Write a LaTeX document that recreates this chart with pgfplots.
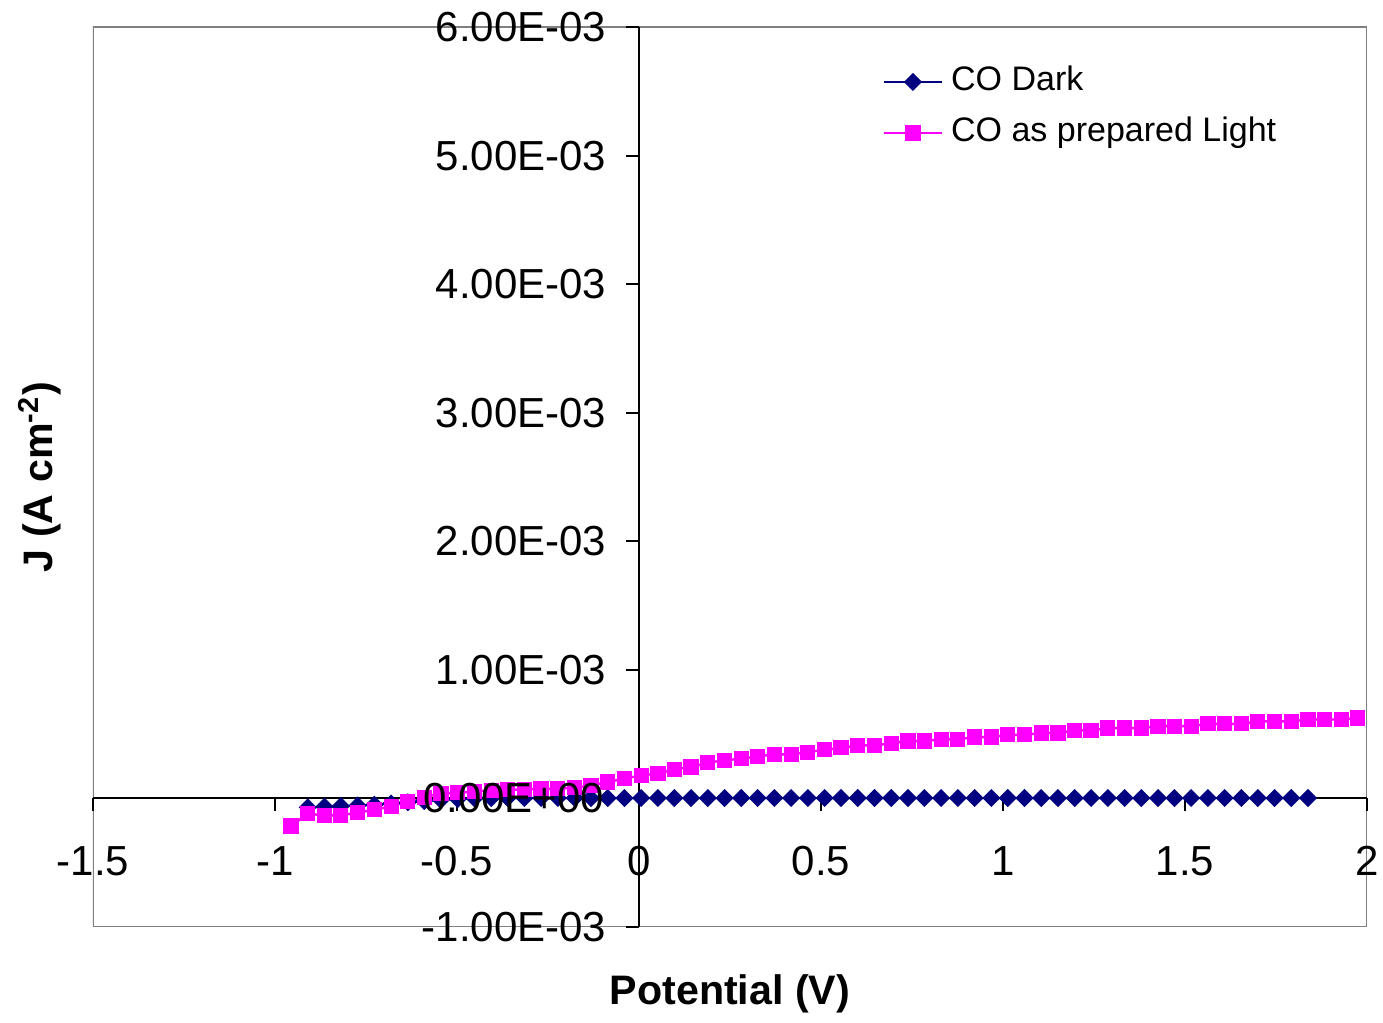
\documentclass[border=0pt]{standalone}
\usepackage{pgfplots}
\pgfplotsset{compat=1.18}
\usepackage{pgfplotstable}
\usepackage{fontspec}
\setmainfont{Liberation Sans}
\definecolor{darkser}{RGB}{0,0,128}
\definecolor{lightser}{RGB}{255,0,255}
\definecolor{framegray}{RGB}{128,128,128}

\pgfplotstableread{
x y
-0.910 -0.070e-3
-0.864 -0.065e-3
-0.819 -0.060e-3
-0.773 -0.055e-3
-0.727 -0.050e-3
-0.681 -0.040e-3
-0.635 -0.030e-3
-0.590 -0.020e-3
-0.544 -0.012e-3
-0.498 -0.005e-3
-0.452 0.000e-3
-0.406 0.002e-3
-0.361 0.003e-3
-0.315 0.003e-3
-0.269 0.003e-3
-0.223 0.003e-3
-0.177 0.003e-3
-0.132 0.003e-3
-0.086 0.003e-3
-0.040 0.003e-3
0.006 0.003e-3
0.052 0.003e-3
0.097 0.003e-3
0.143 0.003e-3
0.189 0.003e-3
0.235 0.003e-3
0.281 0.003e-3
0.326 0.003e-3
0.372 0.003e-3
0.418 0.003e-3
0.464 0.003e-3
0.510 0.003e-3
0.555 0.003e-3
0.601 0.003e-3
0.647 0.003e-3
0.693 0.003e-3
0.739 0.003e-3
0.784 0.003e-3
0.830 0.003e-3
0.876 0.003e-3
0.922 0.003e-3
0.968 0.003e-3
1.013 0.003e-3
1.059 0.003e-3
1.105 0.003e-3
1.151 0.003e-3
1.197 0.003e-3
1.242 0.003e-3
1.288 0.003e-3
1.334 0.003e-3
1.380 0.003e-3
1.426 0.003e-3
1.471 0.003e-3
1.517 0.003e-3
1.563 0.003e-3
1.609 0.003e-3
1.655 0.003e-3
1.700 0.003e-3
1.746 0.003e-3
1.792 0.003e-3
1.838 0.003e-3
}\darktable

\pgfplotstableread{
x y
-0.956 -0.215e-3
-0.910 -0.119e-3
-0.864 -0.132e-3
-0.819 -0.132e-3
-0.773 -0.111e-3
-0.727 -0.088e-3
-0.681 -0.062e-3
-0.635 -0.021e-3
-0.590 0.010e-3
-0.544 0.037e-3
-0.498 0.044e-3
-0.452 0.054e-3
-0.406 0.062e-3
-0.361 0.068e-3
-0.315 0.068e-3
-0.269 0.075e-3
-0.223 0.075e-3
-0.177 0.083e-3
-0.132 0.101e-3
-0.086 0.127e-3
-0.040 0.153e-3
0.006 0.180e-3
0.052 0.192e-3
0.097 0.226e-3
0.143 0.244e-3
0.189 0.278e-3
0.235 0.296e-3
0.281 0.309e-3
0.326 0.327e-3
0.372 0.342e-3
0.418 0.342e-3
0.464 0.360e-3
0.510 0.378e-3
0.555 0.394e-3
0.601 0.412e-3
0.647 0.412e-3
0.693 0.430e-3
0.739 0.446e-3
0.784 0.446e-3
0.830 0.459e-3
0.876 0.459e-3
0.922 0.477e-3
0.968 0.477e-3
1.013 0.494e-3
1.059 0.494e-3
1.105 0.509e-3
1.151 0.509e-3
1.197 0.529e-3
1.242 0.529e-3
1.288 0.547e-3
1.334 0.547e-3
1.380 0.547e-3
1.426 0.562e-3
1.471 0.562e-3
1.517 0.562e-3
1.563 0.580e-3
1.609 0.580e-3
1.655 0.580e-3
1.700 0.599e-3
1.746 0.599e-3
1.792 0.599e-3
1.838 0.614e-3
1.884 0.614e-3
1.930 0.614e-3
1.975 0.626e-3
}\lighttable

\begin{document}
\begin{tikzpicture}
\useasboundingbox (-23.25pt,-24pt) rectangle (322.5pt,231.75pt);
\begin{axis}[
  at={(0,0)}, anchor=south west,
  scale only axis, width=318.5pt, height=225pt,
  xmin=-1.5, xmax=2, ymin=-0.001, ymax=0.006,
  axis lines=middle,
  axis on top,
  hide obscured x ticks=false,
  hide obscured y ticks=false,
  axis line style={-, black, line width=0.5pt},
  scaled ticks=false,
  xtick={-1.5,-1,-0.5,0,0.5,1,1.5,2},
  xticklabels={-1.5,-1,-0.5,0,0.5,1,1.5,2},
  ytick={-0.001,0,0.001,0.002,0.003,0.004,0.005,0.006},
  yticklabels={-1.00E-03,{},1.00E-03,2.00E-03,3.00E-03,4.00E-03,5.00E-03,6.00E-03},
  tick align=outside,
  major tick length=3.25pt,
  tick style={black, line width=0.5pt},
  xticklabel style={anchor=base, inner sep=0pt, font=\fontsize{10.5}{12}\selectfont, yshift=-16pt},
  yticklabel style={anchor=east, inner sep=0pt, font=\fontsize{10.5}{12}\selectfont, xshift=-4.75pt},
  xlabel={Potential (V)},
  xlabel style={at={(axis description cs:0.5,0)}, anchor=base, yshift=-19.5pt, font=\fontsize{10.3}{12}\selectfont\bfseries},
  ylabel={J (A cm\textsuperscript{-2})},
  ylabel style={at={(axis description cs:-0.0314,0.5)}, anchor=base, rotate=90, font=\fontsize{10.3}{12}\selectfont\bfseries},
  legend style={draw=none, fill=none, at={(axis description cs:0.6193,0.9565)}, anchor=north west,
    font=\fontsize{8.5}{10}\selectfont, inner sep=0pt, row sep=5.25pt,
    nodes={inner sep=0pt, text height=6pt, text depth=1.5pt}},
  legend cell align=left,
  legend image code/.code={\draw[mark repeat=2,mark phase=2] plot coordinates {(0pt,0pt) (7.25pt,0pt) (14.5pt,0pt)}; \path (16.5pt,0pt);},
]
\draw[framegray, line width=0.6pt] (axis description cs:0,0) rectangle (axis description cs:1,1);
\addplot[color=darkser, line width=0.5pt, mark=square*, mark size=1.35pt, mark options={rotate=45, fill=darkser, draw=darkser, solid}] table {\darktable};
\addlegendentry{CO Dark}
\addplot[color=lightser, line width=0.6pt, mark=square*, mark size=1.6pt, mark options={fill=lightser, draw=lightser, solid}] table {\lighttable};
\addlegendentry{CO as prepared Light}
\coordinate (orig) at (axis cs:0,0);
\end{axis}
\node[anchor=east, inner sep=0pt, font=\fontsize{10.5}{12}\selectfont, xshift=-8.5pt] at (orig) {0.00E+00};
\end{tikzpicture}
\end{document}
